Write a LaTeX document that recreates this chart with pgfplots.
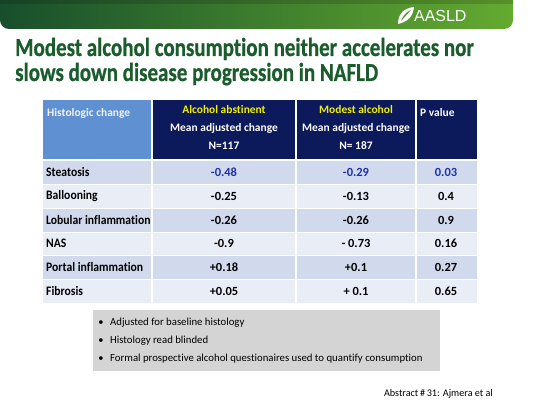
\documentclass[border=0pt]{standalone}
\usepackage{pgfplots}
\pgfplotsset{compat=1.18}
\usepackage{pgfplotstable}
\usepackage{fontspec}
\setmainfont{Carlito}[Ligatures=NoCommon]
\newfontfamily\titlefont[FakeStretch=0.81,Ligatures=NoCommon,BoldFeatures={FakeBold=0.7}]{Carlito}
\newfontfamily\labfont[FakeStretch=0.9,Ligatures=NoCommon]{Carlito}
\newfontfamily\logofont{Liberation Sans}
\definecolor{bandark}{RGB}{24,78,44}
\definecolor{banlight}{RGB}{100,170,48}
\definecolor{titlegreen}{RGB}{26,92,44}
\definecolor{headblue}{RGB}{95,145,210}
\definecolor{navy}{RGB}{12,25,90}
\definecolor{hyellow}{RGB}{240,240,0}
\definecolor{rowdark}{RGB}{208,218,236}
\definecolor{rowlight}{RGB}{233,237,246}
\definecolor{valblue}{RGB}{30,50,170}
\definecolor{boxgray}{RGB}{212,212,212}

\pgfplotstableread[col sep=comma]{
y,name,a,b,p
196,Ballooning,-0.25,-0.13,0.4
220,Lobular inflammation,-0.26,-0.26,0.9
243,NAS,-0.9,- 0.73,0.16
267,Portal inflammation,+0.18,+0.1,0.27
291,Fibrosis,+0.05,+ 0.1,0.65
}\tbl
\pgfplotstableread[col sep=comma]{
y,name,a,b,p
172,Steatosis,-0.48,-0.29,0.03
}\tblfirst

\begin{document}
\begin{tikzpicture}
\begin{axis}[
  scale only axis, width=533bp, height=413bp,
  xmin=0, xmax=533, ymin=0, ymax=413, y dir=reverse,
  hide axis, clip=false,
  every node near coord/.style={anchor=center, font=\fontsize{12.5}{14}\bfseries, text=black, inner sep=0pt},
  labstyle/.style={every node near coord/.append style={anchor=west, font=\labfont\fontsize{13}{14}\bfseries}},
]
\path (axis cs:0,0) rectangle (axis cs:533,413);
% banner
\shade[left color=bandark, right color=banlight]
  (axis cs:0,0) -- (axis cs:513,0) {[rounded corners=9bp] -- (axis cs:513,29) -- (axis cs:0,29)} -- cycle;
\fill[black, opacity=0.15] (axis cs:0,0) rectangle (axis cs:513,4);
% logo
\fill[white] (axis cs:398,24) .. controls (axis cs:398,14) and (axis cs:404,8) .. (axis cs:414,7)
  .. controls (axis cs:413,17) and (axis cs:407,22) .. (axis cs:398,24) -- cycle;
\fill[banlight!70!bandark] (axis cs:401,21) .. controls (axis cs:403,16) and (axis cs:406,12) .. (axis cs:411,10)
  .. controls (axis cs:407,14) and (axis cs:404,18) .. (axis cs:401,21) -- cycle;
\node[anchor=west, text=white, inner sep=0pt, font=\logofont\fontsize{16}{16}\selectfont] at (axis cs:414,16.5) {AASLD};
% title
\node[anchor=base west, inner sep=0pt, text=titlegreen, font=\titlefont\bfseries\fontsize{26}{26}\selectfont] at (axis cs:15,56) {Modest alcohol consumption neither accelerates nor};
\node[anchor=base west, inner sep=0pt, text=titlegreen, font=\titlefont\bfseries\fontsize{26}{26}\selectfont] at (axis cs:15,81) {slows down disease progression in NAFLD};
% table header
\fill[headblue] (axis cs:43,100) rectangle (axis cs:152,160);
\fill[navy] (axis cs:152,100) rectangle (axis cs:477,160);
% rows
\fill[rowdark] (axis cs:43,160) rectangle (axis cs:477,184);
\fill[rowlight] (axis cs:43,184) rectangle (axis cs:477,208);
\fill[rowdark] (axis cs:43,208) rectangle (axis cs:477,232);
\fill[rowlight] (axis cs:43,232) rectangle (axis cs:477,255);
\fill[rowdark] (axis cs:43,255) rectangle (axis cs:477,279);
\fill[rowlight] (axis cs:43,279) rectangle (axis cs:477,303);
\draw[white, line width=0.8bp] (axis cs:43,184) -- (axis cs:477,184);
\draw[white, line width=0.8bp] (axis cs:43,208) -- (axis cs:477,208);
\draw[white, line width=0.8bp] (axis cs:43,232) -- (axis cs:477,232);
\draw[white, line width=0.8bp] (axis cs:43,255) -- (axis cs:477,255);
\draw[white, line width=0.8bp] (axis cs:43,279) -- (axis cs:477,279);
\draw[white, line width=2.5bp] (axis cs:43,160) -- (axis cs:477,160);
\draw[white, line width=1.2bp] (axis cs:152,100) -- (axis cs:152,303);
\draw[white, line width=1.2bp] (axis cs:296,100) -- (axis cs:296,303);
\draw[white, line width=1.2bp] (axis cs:416,100) -- (axis cs:416,303);
% header text
\node[anchor=west, inner sep=0pt, text=white!90!gray, font=\fontsize{11.5}{13}\bfseries] at (axis cs:47,113) {Histologic change};
\node[align=center, inner sep=0pt, text=white, font=\fontsize{11.5}{18}\bfseries, anchor=north] at (axis cs:224,105)
  {\textcolor{hyellow}{Alcohol abstinent}\\Mean adjusted change\\N=117};
\node[align=center, inner sep=0pt, text=white, font=\fontsize{11.5}{18}\bfseries, anchor=north] at (axis cs:356,105)
  {\textcolor{hyellow}{Modest alcohol}\\Mean adjusted change\\N= 187};
\node[anchor=west, inner sep=0pt, text=white, font=\fontsize{11.5}{13}\bfseries] at (axis cs:420,113) {P value};
% body values
\addplot[draw=none, mark=none, nodes near coords, point meta=explicit symbolic, labstyle]
  table[x expr=46, y=y, meta=name] {\tbl};
\addplot[draw=none, mark=none, nodes near coords, point meta=explicit symbolic] table[x expr=224, y=y, meta=a] {\tbl};
\addplot[draw=none, mark=none, nodes near coords, point meta=explicit symbolic] table[x expr=356, y=y, meta=b] {\tbl};
\addplot[draw=none, mark=none, nodes near coords, point meta=explicit symbolic] table[x expr=446, y=y, meta=p] {\tbl};
\addplot[draw=none, mark=none, nodes near coords, point meta=explicit symbolic, labstyle]
  table[x expr=46, y=y, meta=name] {\tblfirst};
\addplot[draw=none, mark=none, nodes near coords, point meta=explicit symbolic,
  every node near coord/.append style={text=valblue}] table[x expr=224, y=y, meta=a] {\tblfirst};
\addplot[draw=none, mark=none, nodes near coords, point meta=explicit symbolic,
  every node near coord/.append style={text=valblue}] table[x expr=356, y=y, meta=b] {\tblfirst};
\addplot[draw=none, mark=none, nodes near coords, point meta=explicit symbolic,
  every node near coord/.append style={text=valblue}] table[x expr=446, y=y, meta=p] {\tblfirst};
% notes box
\fill[boxgray] (axis cs:93,310) rectangle (axis cs:440,371);
\node[anchor=center, inner sep=0pt, font=\fontsize{10.5}{12}\selectfont] at (axis cs:101,323) {\textbullet};
\node[anchor=center, inner sep=0pt, font=\fontsize{10.5}{12}\selectfont] at (axis cs:101,341) {\textbullet};
\node[anchor=center, inner sep=0pt, font=\fontsize{10.5}{12}\selectfont] at (axis cs:101,359) {\textbullet};
\node[anchor=west, inner sep=0pt, font=\fontsize{10.8}{12}\selectfont] at (axis cs:110,323) {Adjusted for baseline histology};
\node[anchor=west, inner sep=0pt, font=\fontsize{10.8}{12}\selectfont] at (axis cs:110,341) {Histology read blinded};
\node[anchor=west, inner sep=0pt, font=\fontsize{10.8}{12}\selectfont] at (axis cs:110,359) {Formal prospective alcohol questionaires used to quantify consumption};
\node[anchor=east, inner sep=0pt, font=\fontsize{10.2}{12}\selectfont] at (axis cs:493,394) {Abstract\,\#\,31: Ajmera et al};
\end{axis}
\end{tikzpicture}
\end{document}
